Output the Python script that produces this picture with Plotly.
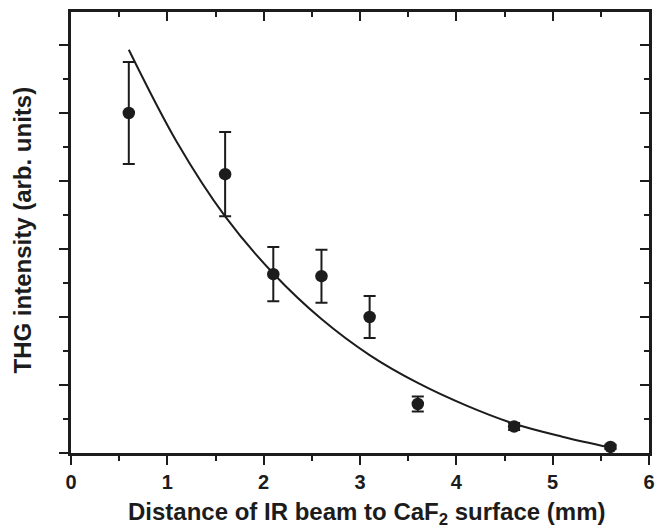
import plotly.graph_objects as go

# Measured data (x in mm, y in arbitrary units; y unit = one major tick)
x_data = [0.6, 1.6, 2.1, 2.6, 3.1, 3.6, 4.6, 5.6]
y_data = [5.00, 4.10, 2.63, 2.60, 2.00, 0.72, 0.39, 0.09]
y_err = [0.75, 0.62, 0.40, 0.39, 0.31, 0.11, 0.05, 0.03]

# Fit curve
x_fit = [0.6, 1.1, 1.6, 2.1, 2.6, 3.1, 3.6, 4.1, 4.6, 5.1, 5.6]
y_fit = [5.93, 4.57, 3.48, 2.64, 1.97, 1.44, 1.03, 0.70, 0.43, 0.24, 0.08]

x_ticks = [0, 1, 2, 3, 4, 5, 6]
x_tick_labels = ["0", "1", "2", "3", "4", "5", "6"]

x_title = "Distance of IR beam to CaF<sub>2</sub> surface (mm)"
y_title = "THG intensity (arb. units)"

INK = "#1c1c1c"
FONT = "Liberation Sans"

fig = go.Figure()
fig.add_trace(go.Scatter(
    x=x_fit, y=y_fit, mode="lines",
    line=dict(color=INK, width=2, shape="spline", smoothing=1.0),
    showlegend=False, hoverinfo="skip",
))
fig.add_trace(go.Scatter(
    x=x_data, y=y_data, mode="markers",
    marker=dict(color=INK, size=12.5),
    error_y=dict(type="data", array=y_err, visible=True,
                 color=INK, thickness=2, width=6),
    showlegend=False,
))
# invisible trace to activate the mirrored top/right axes
fig.add_trace(go.Scatter(x=[0], y=[0], xaxis="x2", yaxis="y2",
                         mode="markers", marker=dict(opacity=0),
                         showlegend=False, hoverinfo="skip"))

YMAX = 6.485
common_minor = dict(ticklen=5, tickwidth=2, tickcolor=INK, dtick=0.5, showgrid=False)

fig.update_layout(
    width=659, height=528,
    margin=dict(l=71, r=4, t=12, b=75),
    paper_bgcolor="white", plot_bgcolor="white",
    font=dict(family=FONT, color=INK),
    xaxis=dict(
        range=[0, 6], tickvals=x_ticks, ticktext=x_tick_labels,
        ticks="outside", ticklen=9, tickwidth=2, tickcolor=INK,
        showline=True, linewidth=3, linecolor=INK, mirror=True,
        showgrid=False, zeroline=False,
        tickfont=dict(family=FONT, size=20, color=INK, weight="bold"),
        minor=dict(ticks="outside", **common_minor),
    ),
    yaxis=dict(
        range=[0, YMAX], dtick=1, tick0=0,
        ticks="outside", ticklen=9, tickwidth=2, tickcolor=INK,
        showline=True, linewidth=3, linecolor=INK, mirror=True,
        showgrid=False, zeroline=False, showticklabels=False,
        minor=dict(ticks="outside", **common_minor),
    ),
    xaxis2=dict(
        overlaying="x", side="top", anchor="y", range=[0, 6], dtick=1, tick0=0,
        ticks="inside", ticklen=9, tickwidth=2, tickcolor=INK,
        showline=False, showgrid=False, zeroline=False, showticklabels=False,
        minor=dict(ticks="inside", **common_minor),
    ),
    yaxis2=dict(
        overlaying="y", side="right", anchor="x", range=[0, YMAX], dtick=1, tick0=0,
        ticks="inside", ticklen=9, tickwidth=2, tickcolor=INK,
        showline=False, showgrid=False, zeroline=False, showticklabels=False,
        minor=dict(ticks="inside", **common_minor),
    ),
    annotations=[
        dict(text=x_title, xref="paper", yref="paper",
             x=(370 - 71) / 584, y=(453 - 513) / 441,
             xanchor="center", yanchor="middle", showarrow=False,
             font=dict(family=FONT, size=24, color=INK, weight="bold")),
        dict(text=y_title, xref="paper", yref="paper",
             x=(22 - 71) / 584, y=(453 - 230) / 441, textangle=-90,
             xanchor="center", yanchor="middle", showarrow=False,
             font=dict(family=FONT, size=24, color=INK, weight="bold")),
    ],
)

fig.write_html("out.html")
